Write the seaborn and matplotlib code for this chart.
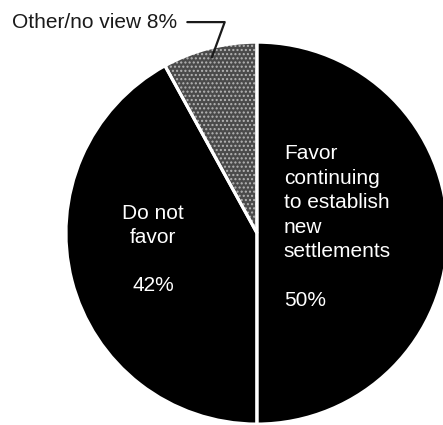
import matplotlib
matplotlib.use("Agg")
import matplotlib.pyplot as plt
import seaborn as sns
import numpy as np

# share of answers, clockwise from 12 o'clock
labels = ["Favor continuing to establish new settlements", "Do not favor", "Other/no view"]
shares = [50, 42, 8]
face_colors = ["#000000", "#000000", "#4a4a4a"]

sns.set_style("white")
plt.rcParams["font.family"] = ["Liberation Sans", "DejaVu Sans"]

fig = plt.figure(figsize=(4.43, 4.25), dpi=100)
ax = fig.add_axes([0.149, 0.002, 0.862, 0.899])

# filled wedges (hatch drawn in the light edge colour, no outline)
wedges, _ = ax.pie(shares, colors=face_colors, startangle=90, counterclock=False,
                   radius=1.0, wedgeprops=dict(linewidth=0, edgecolor="#b5b5b5"))
wedges[2].set_hatch("....")

# white separators on top
ax.pie(shares, colors=["none"] * 3, startangle=90, counterclock=False, radius=1.0,
       wedgeprops=dict(linewidth=2.2, edgecolor="white", fill=False))

ax.set_xlim(-1, 1)
ax.set_ylim(-1, 1)
ax.set_aspect("equal")
ax.axis("off")

ax.text(0.141, 0.465, "Favor\ncontinuing\nto establish\nnew\nsettlements\n\n%d%%" % shares[0],
        color="white", fontsize=15, ha="left", va="top", linespacing=1.36)
ax.text(-0.545, 0.155, "Do not\nfavor\n\n%d%%" % shares[1],
        color="white", fontsize=15, ha="center", va="top", linespacing=1.34)

# leader for the small slice
w = wedges[2]
mid = np.deg2rad((w.theta1 + w.theta2) / 2)
ax.annotate("%s %d%%" % (labels[2], shares[2]),
            xy=(0.95 * np.cos(mid), 0.95 * np.sin(mid)), xycoords="data",
            xytext=(0.027, 0.948), textcoords="figure fraction",
            ha="left", va="center", fontsize=15, color="#1a1a1a",
            arrowprops=dict(arrowstyle="-", color="#1a1a1a", lw=1.6,
                            connectionstyle="angle,angleA=0,angleB=70,rad=0",
                            relpos=(1, 0.5), shrinkA=5, shrinkB=0))

fig.savefig("out.png", dpi=100)
